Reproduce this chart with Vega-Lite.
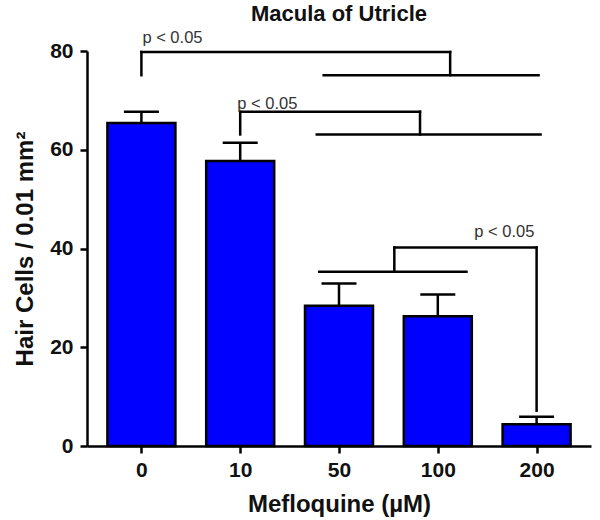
{
  "$schema": "https://vega.github.io/schema/vega-lite/v6.json",
  "width": 504,
  "height": 395,
  "autosize": "none",
  "padding": {"left": 87, "top": 51, "right": 9, "bottom": 74},
  "background": "white",
  "title": {"text": "Macula of Utricle", "font": "Liberation Sans", "fontSize": 22, "fontWeight": "bold", "color": "#111111", "offset": 4, "anchor": "middle"},
  "config": {"view": {"stroke": null}, "font": "Liberation Sans"},
  "datasets": {
    "bars": [
      {"pos": 0, "mean": 65.4, "upper": 67.7},
      {"pos": 1, "mean": 57.7, "upper": 61.4},
      {"pos": 2, "mean": 28.4, "upper": 32.9},
      {"pos": 3, "mean": 26.3, "upper": 30.7},
      {"pos": 4, "mean": 4.4, "upper": 5.9}
    ],
    "brackets": [
      {"x1": 0, "x2": 0, "y1": 75.1, "y2": 79.8},
      {"x1": 0, "x2": 3.125, "y1": 79.8, "y2": 79.8},
      {"x1": 3.125, "x2": 3.125, "y1": 79.8, "y2": 75.1},
      {"x1": 1.845, "x2": 4.02, "y1": 75.1, "y2": 75.1},
      {"x1": 1, "x2": 1, "y1": 63.1, "y2": 67.7},
      {"x1": 1, "x2": 2.82, "y1": 67.7, "y2": 67.7},
      {"x1": 2.82, "x2": 2.82, "y1": 67.7, "y2": 63.1},
      {"x1": 1.775, "x2": 4.04, "y1": 63.1, "y2": 63.1},
      {"x1": 1.8, "x2": 3.29, "y1": 35.3, "y2": 35.3},
      {"x1": 2.56, "x2": 2.56, "y1": 35.3, "y2": 40.2},
      {"x1": 2.56, "x2": 4.0, "y1": 40.2, "y2": 40.2},
      {"x1": 4.0, "x2": 4.0, "y1": 40.2, "y2": 7.15}
    ],
    "labels": [
      {"x": 0.01, "y": 81.6, "text": "p < 0.05"},
      {"x": 0.97, "y": 68.2, "text": "p < 0.05"},
      {"x": 3.37, "y": 42.4, "text": "p < 0.05"}
    ]
  },
  "layer": [
    {
      "data": {"name": "bars"},
      "mark": {"type": "bar", "orient": "vertical", "width": 68, "color": "#0000FF", "stroke": "black", "strokeWidth": 2.5},
      "encoding": {
        "x": {
          "field": "pos", "type": "quantitative",
          "scale": {"domain": [-0.5, 4.5], "nice": false, "zero": false},
          "axis": {
            "title": "Mefloquine (µM)", "values": [0, 1, 2, 3, 4],
            "labelExpr": "['0','10','50','100','200'][datum.value]",
            "grid": false, "domainColor": "black", "domainWidth": 2.5,
            "tickColor": "black", "tickWidth": 2.5, "tickSize": 7,
            "labelFont": "Liberation Sans", "labelFontSize": 21, "labelFontWeight": "bold", "labelColor": "#111111", "labelPadding": 6,
            "titleFont": "Liberation Sans", "titleFontSize": 24, "titleFontWeight": "bold", "titleColor": "#111111", "titlePadding": 12
          }
        },
        "y": {
          "field": "mean", "type": "quantitative",
          "scale": {"domain": [0, 80], "nice": false},
          "axis": {
            "title": "Hair Cells / 0.01 mm²", "values": [0, 20, 40, 60, 80],
            "grid": false, "domainColor": "black", "domainWidth": 2.5,
            "tickColor": "black", "tickWidth": 2.5, "tickSize": 7,
            "labelFont": "Liberation Sans", "labelFontSize": 21, "labelFontWeight": "bold", "labelColor": "#111111", "labelPadding": 7,
            "titleFont": "Liberation Sans", "titleFontSize": 24, "titleFontWeight": "bold", "titleColor": "#111111", "titlePadding": 12
          }
        }
      }
    },
    {
      "data": {"name": "bars"},
      "mark": {"type": "rule", "color": "black", "strokeWidth": 2.5},
      "encoding": {
        "x": {"field": "pos", "type": "quantitative"},
        "y": {"field": "mean", "type": "quantitative"},
        "y2": {"field": "upper"}
      }
    },
    {
      "data": {"name": "bars"},
      "mark": {"type": "tick", "orient": "horizontal", "size": 35, "thickness": 2.5, "color": "black", "opacity": 1},
      "encoding": {
        "x": {"field": "pos", "type": "quantitative"},
        "y": {"field": "upper", "type": "quantitative"}
      }
    },
    {
      "data": {"name": "brackets"},
      "mark": {"type": "rule", "color": "black", "strokeWidth": 2.5, "strokeCap": "square"},
      "encoding": {
        "x": {"field": "x1", "type": "quantitative"},
        "x2": {"field": "x2"},
        "y": {"field": "y1", "type": "quantitative"},
        "y2": {"field": "y2"}
      }
    },
    {
      "data": {"name": "labels"},
      "mark": {"type": "text", "align": "left", "baseline": "alphabetic", "fontSize": 16.5, "color": "#333333", "font": "Liberation Sans"},
      "encoding": {
        "x": {"field": "x", "type": "quantitative"},
        "y": {"field": "y", "type": "quantitative"},
        "text": {"field": "text"}
      }
    }
  ]
}
